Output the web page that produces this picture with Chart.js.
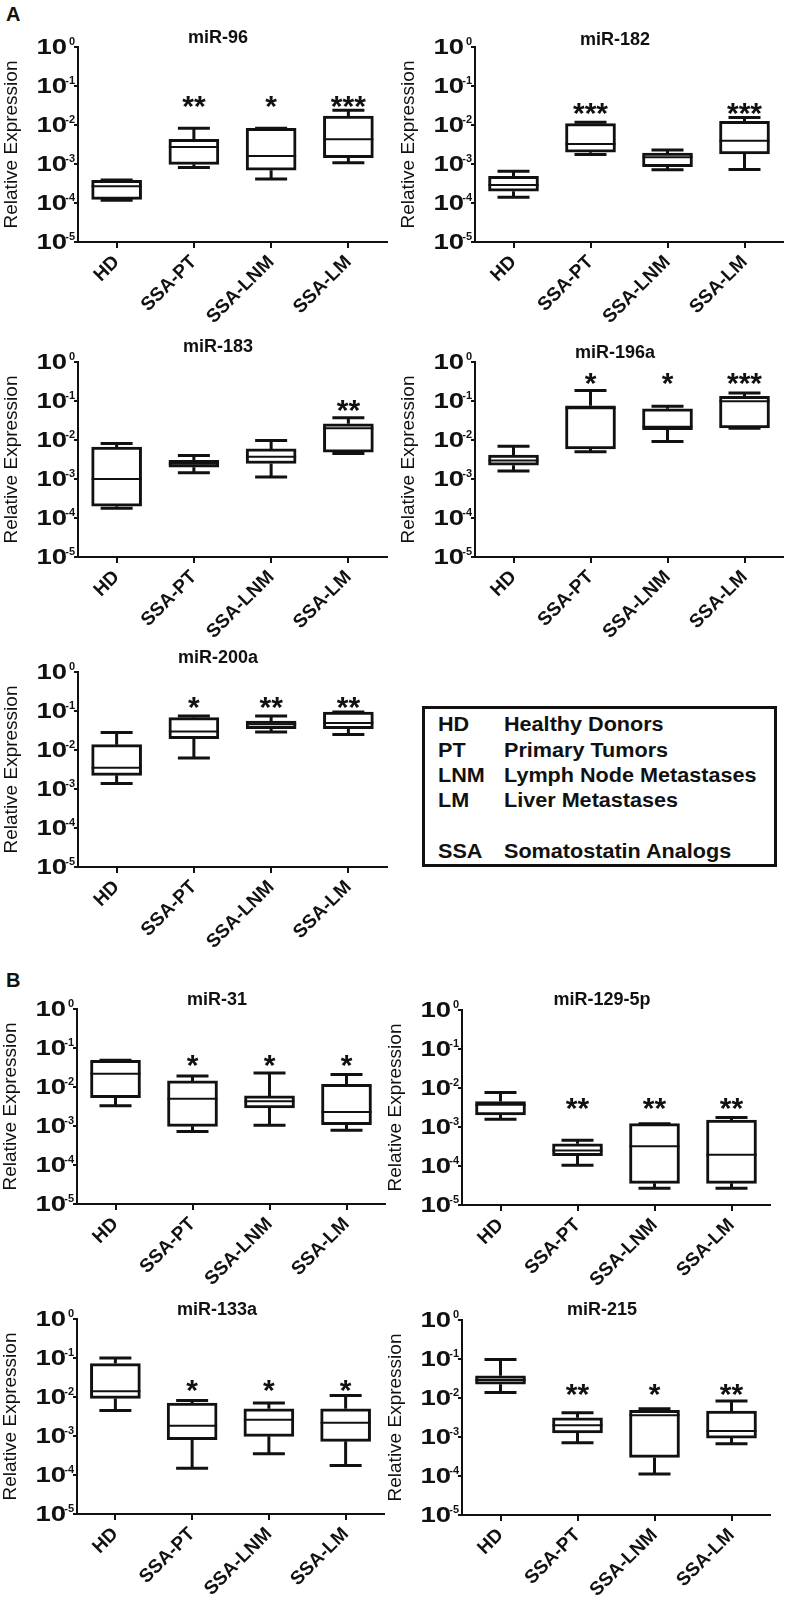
<!DOCTYPE html>
<html>
<head>
<meta charset="utf-8">
<script src="https://cdn.jsdelivr.net/npm/chart.js@4.4.1/dist/chart.umd.min.js"></script>
<style>
    body { margin: 0; background: #fff; }
    #figure { position: relative; width: 786px; height: 1600px; overflow: hidden; font-family: "Liberation Sans", Arial, sans-serif; color: #111; }
    #figure canvas { position: absolute; }
    .panel-label { position: absolute; left: 6px; font-weight: bold; font-size: 20px; line-height: 20px; }
    #key { position: absolute; left: 422px; top: 706px; width: 349px; height: 155px; border: 3px solid #111; }
    #key div { position: absolute; font-weight: bold; font-size: 20px; line-height: 20px; white-space: nowrap; transform: scaleX(1.08); transform-origin: left center; }
</style>
</head>
<body>
<div id="figure">
    <div class="panel-label" style="top:4px">A</div>
    <div class="panel-label" style="top:970px">B</div>
    <div id="key">
        <div style="left:13px;top:5px">HD</div><div style="left:79px;top:5px">Healthy Donors</div>
        <div style="left:13px;top:31px">PT</div><div style="left:79px;top:31px">Primary Tumors</div>
        <div style="left:13px;top:56px">LNM</div><div style="left:79px;top:56px">Lymph Node Metastases</div>
        <div style="left:13px;top:81px">LM</div><div style="left:79px;top:81px">Liver Metastases</div>
        <div style="left:13px;top:132px">SSA</div><div style="left:79px;top:132px">Somatostatin Analogs</div>
    </div>
</div>
<script>
// groups and panels
const categories = ['HD', 'SSA-PT', 'SSA-LNM', 'SSA-LM'];
const panelTitles = ['miR-96', 'miR-182', 'miR-183', 'miR-196a', 'miR-200a',
                     'miR-31', 'miR-129-5p', 'miR-133a', 'miR-215'];

// box plot statistics, one row per panel, one value per group
const minValues = [
    [1.17e-4, 8.1e-4, 4.1e-4, 1.07e-3],
    [1.4e-4, 1.74e-3, 7.1e-4, 7.2e-4],
    [1.77e-4, 1.44e-3, 1.12e-3, 4.5e-3],
    [1.6e-3, 5.0e-3, 9.1e-3, 0.02],
    [1.38e-3, 6.2e-3, 0.029, 0.025],
    [3.3e-3, 7.2e-4, 1.05e-3, 7.8e-4],
    [1.58e-3, 1.05e-4, 2.7e-5, 2.7e-5],
    [4.5e-3, 1.5e-4, 3.5e-4, 1.74e-4],
    [0.0138, 7.1e-4, 1.13e-4, 6.7e-4]
];
const q1Values = [
    [1.24e-4, 9.8e-4, 6.9e-4, 1.45e-3],
    [2.0e-4, 2.0e-3, 8.6e-4, 1.81e-3],
    [2.0e-4, 2.0e-3, 2.5e-3, 4.9e-3],
    [2.26e-3, 5.9e-3, 0.0185, 0.0204],
    [2.24e-3, 0.0195, 0.0354, 0.0354],
    [5.3e-3, 9.8e-4, 2.9e-3, 1.08e-3],
    [2.04e-3, 1.85e-4, 3.6e-5, 3.6e-5],
    [9.2e-3, 8.1e-4, 9.8e-4, 7.3e-4],
    [0.0225, 1.27e-3, 3.0e-4, 9.4e-4]
];
const medianValues = [
    [2.7e-4, 2.74e-3, 1.6e-3, 4.3e-3],
    [2.9e-4, 3.25e-3, 1.49e-3, 3.95e-3],
    [1.0e-3, 2.45e-3, 3.7e-3, 0.02],
    [3.0e-3, 0.065, 0.0218, 0.098],
    [3.5e-3, 0.03, 0.0457, 0.049],
    [0.022, 5.0e-3, 4.3e-3, 2.3e-3],
    [3.7e-3, 2.5e-4, 3.2e-4, 1.94e-4],
    [0.014, 1.84e-3, 2.6e-3, 2.2e-3],
    [0.029, 2.0e-3, 3.6e-3, 1.42e-3]
];
const q3Values = [
    [3.8e-4, 4.3e-3, 8.2e-3, 0.017],
    [4.8e-4, 0.0108, 1.9e-3, 0.0124],
    [6.6e-3, 3.0e-3, 5.9e-3, 0.026],
    [4.1e-3, 0.075, 0.063, 0.132],
    [0.0137, 0.0676, 0.0555, 0.094],
    [0.0486, 0.0143, 5.9e-3, 0.0117],
    [4.5e-3, 3.7e-4, 1.22e-3, 1.5e-3],
    [0.072, 7.0e-3, 5.0e-3, 5.0e-3],
    [0.037, 3.1e-3, 4.8e-3, 4.6e-3]
];
const maxValues = [
    [3.9e-4, 8.2e-3, 8.2e-3, 0.024],
    [6.5e-4, 0.0117, 2.3e-3, 0.0156],
    [8.1e-3, 4.0e-3, 9.7e-3, 0.037],
    [6.9e-3, 0.185, 0.073, 0.16],
    [0.028, 0.0745, 0.0745, 0.094],
    [0.0486, 0.0192, 0.023, 0.021],
    [7.7e-3, 4.6e-4, 1.22e-3, 1.74e-3],
    [0.1, 8.1e-3, 7.0e-3, 0.011],
    [0.097, 4.2e-3, 5.3e-3, 8.4e-3]
];
const starLabels = [
    ['', '**', '*', '***'],
    ['', '***', '', '***'],
    ['', '', '', '**'],
    ['', '*', '*', '***'],
    ['', '*', '**', '**'],
    ['', '*', '*', '*'],
    ['', '**', '**', '**'],
    ['', '*', '*', '*'],
    ['', '**', '*', '**']
];
const yTicks = [1, 1e-1, 1e-2, 1e-3, 1e-4, 1e-5];
const tickExponents = ['0', '-1', '-2', '-3', '-4', '-5'];

// where each plot area sits on the page
const panelLayout = [
    { left: 78, top: 47, width: 309, titleDy: -9, starExp: -1.34 },
    { left: 475, top: 47, width: 308, titleDy: -7, starExp: -1.51 },
    { left: 78, top: 362, width: 309, titleDy: -15, starExp: -1.05 },
    { left: 475, top: 362, width: 308, titleDy: -9, starExp: -0.37 },
    { left: 78, top: 672, width: 309, titleDy: -14, starExp: -0.73 },
    { left: 77, top: 1009, width: 308, titleDy: -9, starExp: -1.27 },
    { left: 462, top: 1010, width: 308, titleDy: -10, starExp: -2.33 },
    { left: 77, top: 1319, width: 307, titleDy: -9, starExp: -1.64 },
    { left: 462, top: 1320, width: 308, titleDy: -10, starExp: -1.72 }
];

const INK = '#111';
const FONT = '"Liberation Sans", Arial, sans-serif';
const PLOT_H = 195;
const AXIS_W = 78;
const PAD_TOP = 45;
const X_H = 100;
const PAD_RIGHT = 10;
const CAP = 32;

Chart.defaults.font.family = FONT;
Chart.defaults.color = INK;

function boxPlotPlugin(p) {
    return {
        id: 'boxPlot' + p,
        afterDatasetsDraw: function (chart) {
            const ctx = chart.ctx;
            const yScale = chart.scales.y;
            const bars = chart.getDatasetMeta(0).data;
            ctx.save();
            ctx.strokeStyle = INK;
            bars.forEach(function (bar, i) {
                const x = bar.x;
                const half = bar.width / 2;
                const yMin = yScale.getPixelForValue(minValues[p][i]);
                const yQ1 = yScale.getPixelForValue(q1Values[p][i]);
                const yMed = yScale.getPixelForValue(medianValues[p][i]);
                const yQ3 = yScale.getPixelForValue(q3Values[p][i]);
                const yMax = yScale.getPixelForValue(maxValues[p][i]);

                ctx.lineWidth = 3;
                ctx.beginPath();
                ctx.moveTo(x, yQ3); ctx.lineTo(x, yMax);
                ctx.moveTo(x - CAP / 2, yMax); ctx.lineTo(x + CAP / 2, yMax);
                ctx.moveTo(x, yQ1); ctx.lineTo(x, yMin);
                ctx.moveTo(x - CAP / 2, yMin); ctx.lineTo(x + CAP / 2, yMin);
                ctx.stroke();

                ctx.lineWidth = 2;
                ctx.beginPath();
                ctx.moveTo(x - half, yMed); ctx.lineTo(x + half, yMed);
                ctx.stroke();
            });
            ctx.restore();
        },
        afterDraw: function (chart) {
            const ctx = chart.ctx;
            const area = chart.chartArea;
            const yScale = chart.scales.y;
            const lay = panelLayout[p];
            ctx.save();
            ctx.fillStyle = INK;

            // panel title
            ctx.font = 'bold 18px ' + FONT;
            ctx.textAlign = 'center';
            ctx.textBaseline = 'middle';
            ctx.fillText(panelTitles[p], area.left + 140, area.top + lay.titleDy);

            // 10^n tick labels
            yTicks.forEach(function (v, k) {
                const py = yScale.getPixelForValue(v);
                ctx.save();
                ctx.font = 'bold 22px ' + FONT;
                ctx.textAlign = 'right';
                ctx.textBaseline = 'middle';
                ctx.translate(area.left - 11, py + 1);
                ctx.scale(1.25, 1);
                ctx.fillText('10', 0, 0);
                ctx.restore();
                ctx.font = 'bold 11px ' + FONT;
                ctx.textAlign = 'right';
                ctx.textBaseline = 'alphabetic';
                ctx.fillText(tickExponents[k], area.left - 3, py - 2);
            });

            // significance stars
            ctx.font = 'bold 30px ' + FONT;
            ctx.textAlign = 'center';
            ctx.textBaseline = 'alphabetic';
            const starY = yScale.getPixelForValue(Math.pow(10, lay.starExp)) + 0.56 * 30;
            chart.getDatasetMeta(0).data.forEach(function (bar, i) {
                if (starLabels[p][i]) {
                    ctx.fillText(starLabels[p][i], bar.x, starY);
                }
            });
            ctx.restore();
        }
    };
}

const figure = document.getElementById('figure');

panelTitles.forEach(function (title, p) {
    const lay = panelLayout[p];
    const canvas = document.createElement('canvas');
    canvas.width = AXIS_W + lay.width + PAD_RIGHT;
    canvas.height = PAD_TOP + PLOT_H + X_H;
    canvas.style.left = (lay.left - AXIS_W) + 'px';
    canvas.style.top = (lay.top - PAD_TOP) + 'px';
    canvas.style.width = canvas.width + 'px';
    canvas.style.height = canvas.height + 'px';
    figure.appendChild(canvas);

    new Chart(canvas, {
        type: 'bar',
        data: {
            labels: categories,
            datasets: [{
                label: title,
                data: categories.map(function (c, i) { return [q1Values[p][i], q3Values[p][i]]; }),
                backgroundColor: '#fff',
                borderColor: INK,
                borderWidth: 3,
                borderSkipped: false,
                barThickness: 50
            }]
        },
        options: {
            responsive: false,
            animation: false,
            devicePixelRatio: 1,
            layout: { padding: { top: PAD_TOP, right: PAD_RIGHT, left: 0, bottom: 0 } },
            plugins: {
                legend: { display: false },
                tooltip: { enabled: false }
            },
            scales: {
                x: {
                    offset: true,
                    grid: { display: true, drawOnChartArea: false, offset: false, color: INK, lineWidth: 2, tickLength: 6 },
                    border: { display: true, color: INK, width: 2 },
                    ticks: {
                        color: INK,
                        font: { size: 19, weight: 'bold' },
                        minRotation: 45,
                        maxRotation: 45,
                        autoSkip: false,
                        padding: 3
                    },
                    afterFit: function (s) { s.height = X_H; }
                },
                y: {
                    type: 'logarithmic',
                    min: 1e-5,
                    max: 1,
                    afterBuildTicks: function (s) { s.ticks = yTicks.map(function (v) { return { value: v }; }); },
                    grid: { drawOnChartArea: false, color: INK, lineWidth: 2, tickLength: 4 },
                    border: { display: true, color: INK, width: 2 },
                    ticks: { display: false },
                    title: {
                        display: true,
                        text: 'Relative Expression',
                        color: INK,
                        font: { size: 19 },
                        padding: { top: 0, bottom: 0 }
                    },
                    afterFit: function (s) { s.width = AXIS_W; }
                }
            }
        },
        plugins: [boxPlotPlugin(p)]
    });
});
</script>
</body>
</html>
